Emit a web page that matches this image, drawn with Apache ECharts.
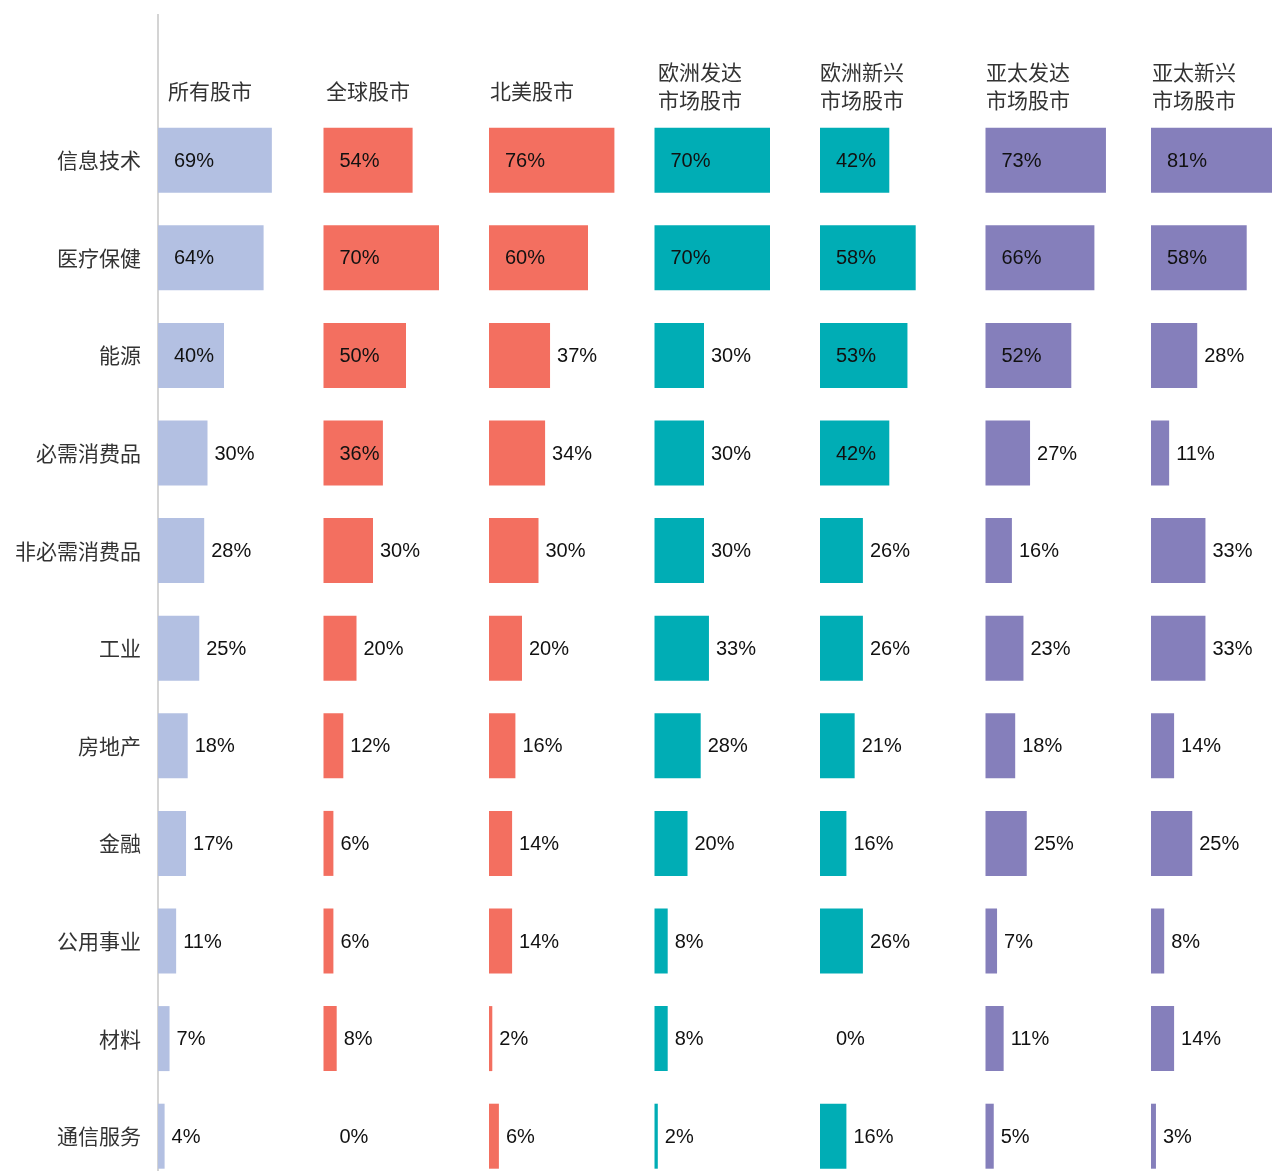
<!DOCTYPE html>
<html>
<head>
<meta charset="utf-8">
<script src="https://cdn.jsdelivr.net/npm/echarts@6/dist/echarts.min.js"></script>
<style>
html,body{margin:0;padding:0;background:#fff;overflow:hidden;}
#chart{width:1330px;height:1200px;}
</style>
</head>
<body>
<div id="chart"></div>
<script>
const sectors = ['信息技术','医疗保健','能源','必需消费品','非必需消费品','工业','房地产','金融','公用事业','材料','通信服务'];
const markets = ['所有股市','全球股市','北美股市','欧洲发达\n市场股市','欧洲新兴\n市场股市','亚太发达\n市场股市','亚太新兴\n市场股市'];
const allMarkets     = [69,64,40,30,28,25,18,17,11,7,4];
const globalMarkets  = [54,70,50,36,30,20,12,6,6,8,0];
const northAmerica   = [76,60,37,34,30,20,16,14,14,2,6];
const europeDev      = [70,70,30,30,30,33,28,20,8,8,2];
const europeEmg      = [42,58,53,42,26,26,21,16,26,0,16];
const asiaPacDev     = [73,66,52,27,16,23,18,25,7,11,5];
const asiaPacEmg     = [81,58,28,11,33,33,14,25,8,14,3];
const seriesValues = [allMarkets, globalMarkets, northAmerica, europeDev, europeEmg, asiaPacDev, asiaPacEmg];
const colors = ['#b3c0e2','#f36f60','#f36f60','#00adb5','#00adb5','#857fbb','#857fbb'];

const colLeft = 158, colStep = 165.5, colWidth = 165;
const gridTop = 111.4, gridHeight = 1073.6;
const headerDx = [10, 2, 1, 3, 0, 0, 1];
const labelFont = '"Liberation Sans","Noto Sans CJK SC",sans-serif';
const cjkFont = '"Noto Sans CJK SC",sans-serif';

// labels drawn inside the bar (matches original styling choices)
function isInside(col, v) {
  if (v === 0) return true;
  if (v >= 40) return true;
  if (col === 1 && v === 36) return true;
  return false;
}

const grids = [], xAxes = [], yAxes = [], series = [], graphics = [];
seriesValues.forEach((vals, i) => {
  const left = colLeft + i * colStep;
  grids.push({left: left, top: gridTop, width: colWidth, height: gridHeight, containLabel: false});
  xAxes.push({gridIndex: i, type: 'value', min: 0, max: 100, show: false});
  yAxes.push({
    gridIndex: i, type: 'category', data: sectors, inverse: true,
    axisLine: {show: false}, axisTick: {show: false}, splitLine: {show: false},
    axisLabel: i === 0 ? {show: true, margin: 17, fontSize: 21, color: '#333', fontFamily: cjkFont} : {show: false}
  });
  series.push({
    type: 'bar', xAxisIndex: i, yAxisIndex: i, barWidth: 65,
    itemStyle: {color: colors[i]},
    data: vals.map(v => ({
      value: v,
      label: isInside(i, v)
        ? {show: true, position: 'insideLeft', distance: 16, offset: [0, 1], formatter: '{c}%', fontSize: 20, color: '#111', fontFamily: labelFont}
        : {show: true, position: 'right', distance: 7, offset: [0, 1], formatter: '{c}%', fontSize: 20, color: '#111', fontFamily: labelFont}
    })),
    animation: false
  });
  const twoLine = markets[i].indexOf('\n') >= 0;
  graphics.push({
    type: 'text', x: Math.round(left) + headerDx[i], y: twoLine ? 86 : 91,
    style: {text: markets[i], font: '21px ' + cjkFont, fill: '#333', verticalAlign: 'middle', lineHeight: 28}
  });
});
graphics.push({type: 'line', shape: {x1: 158, y1: 14, x2: 158, y2: 1200}, style: {stroke: '#d4d4d4', lineWidth: 2}});

const chart = echarts.init(document.getElementById('chart'));
chart.setOption({
  backgroundColor: '#fff',
  animation: false,
  grid: grids, xAxis: xAxes, yAxis: yAxes, series: series, graphic: graphics
});
</script>
</body>
</html>
